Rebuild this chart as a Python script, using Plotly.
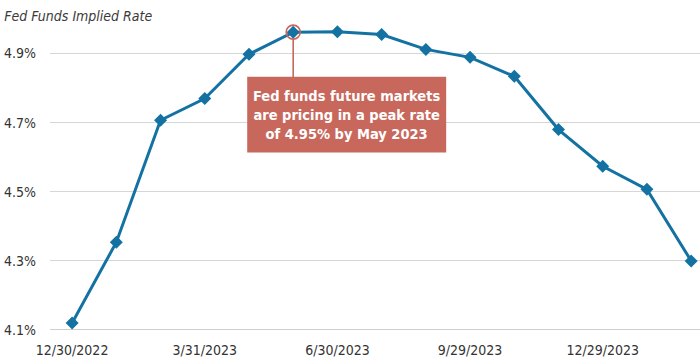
import plotly.graph_objects as go

dates = ["12/30/2022", "1/31/2023", "2/28/2023", "3/31/2023", "4/28/2023", "5/31/2023",
         "6/30/2023", "7/31/2023", "8/31/2023", "9/29/2023", "10/31/2023", "11/30/2023",
         "12/29/2023", "1/31/2024", "2/29/2024"]
rates = [4.12, 4.354, 4.707, 4.77, 4.898, 4.962, 4.963, 4.955, 4.912, 4.889, 4.834,
         4.68, 4.574, 4.507, 4.30]
tick_labels = ["12/30/2022", "3/31/2023", "6/30/2023", "9/29/2023", "12/29/2023"]
y_ticks = [4.1, 4.3, 4.5, 4.7, 4.9]
y_tick_text = ["4.1%", "4.3%", "4.5%", "4.7%", "4.9%"]
title_text = "Fed Funds Implied Rate"
note_text = "Fed funds future markets<br>are pricing in a peak rate<br>of 4.95% by May 2023"
peak_index = 5

LINE = "#1472A3"
BOX = "#C8675C"
FONT = "DejaVu Sans Condensed, Roboto, sans-serif"

fig = go.Figure()
fig.add_trace(go.Scatter(
    x=list(range(len(dates))), y=rates, mode="lines+markers",
    line=dict(color=LINE, width=3),
    marker=dict(symbol="diamond", size=10, color=LINE),
    hoverinfo="skip",
))

tickvals = [dates.index(t) for t in tick_labels]

fig.update_layout(
    width=700, height=364,
    margin=dict(l=50, r=0, t=19, b=34),
    paper_bgcolor="white", plot_bgcolor="white",
    showlegend=False,
    font=dict(family=FONT, color="#333333", size=14),
    title=dict(text=title_text, x=0.006, xref="container", xanchor="left",
               y=1 - 16 / 364, yref="container", yanchor="middle",
               font=dict(family=FONT, size=14, color="#3A3A3A", style="italic")),
    xaxis=dict(range=[-0.5, 14.2], tickvals=tickvals, ticktext=tick_labels,
               showgrid=False, zeroline=False, showline=False,
               ticks="", ticklabelstandoff=10, fixedrange=True,
               tickfont=dict(family=FONT, size=14, color="#333333")),
    yaxis=dict(range=[4.1, 5.0], tickvals=y_ticks, ticktext=y_tick_text,
               showgrid=True, gridcolor="#D6D6D6", gridwidth=1.3,
               zeroline=False, showline=False, ticks="",
               ticklabelstandoff=13, fixedrange=True,
               tickfont=dict(family=FONT, size=14, color="#333333")),
)

# bottom axis line
fig.add_shape(type="line", xref="paper", yref="y", x0=0, x1=1, y0=4.1, y1=4.1,
              line=dict(color="#CFCFCF", width=2.2), layer="below")

peak_y = rates[peak_index]
# circle around peak
fig.add_shape(type="circle", xref="x", yref="y", xsizemode="pixel", ysizemode="pixel",
              xanchor=peak_index, yanchor=peak_y, x0=-7, x1=7, y0=-7, y1=7,
              line=dict(color=BOX, width=1.6))
# connector line
fig.add_shape(type="line", xref="x", yref="y", xsizemode="pixel", ysizemode="pixel",
              xanchor=peak_index, yanchor=peak_y, x0=0, x1=0, y0=-7, y1=-46,
              line=dict(color=BOX, width=1.6))
# callout box
fig.add_shape(type="rect", xref="x", yref="y", x0=3.96, x1=8.46, y0=4.614, y1=4.833,
              fillcolor=BOX, line=dict(width=0), layer="above")
fig.add_annotation(x=6.21, y=4.7235, xref="x", yref="y", text=note_text,
                   showarrow=False, align="center",
                   font=dict(family=FONT, size=14.5, color="white", weight="bold"))

fig.write_html("out.html", config={"displayModeBar": False},
               post_script="document.body.style.margin='0';")
